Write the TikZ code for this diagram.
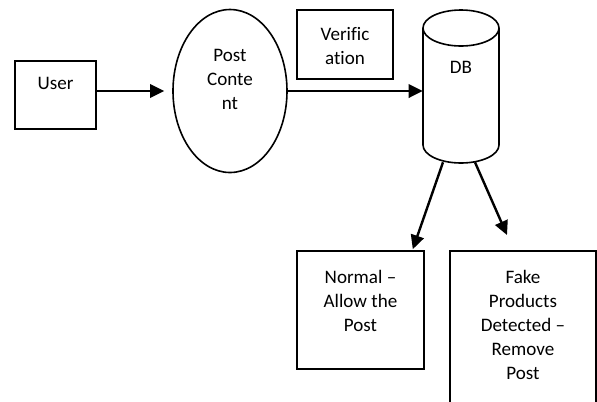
\documentclass[tikz,border=0pt]{standalone}
\usepackage{fontspec}
\setmainfont{Carlito}[Ligatures=CommonOff]
\usetikzlibrary{shapes.geometric,arrows.meta,calc}
\newdimen\pxu \pxu=0.75pt

\begin{document}
\begin{tikzpicture}[x=0.75pt,y=-0.75pt,
  box/.style={draw, line width=1.2pt, rectangle, inner sep=0pt},
  txt/.style={align=center, inner sep=0pt, font=\fontsize{14.3}{18}\selectfont},
  arr/.style={line width=1.8pt, -{Triangle[length=10.5pt,width=10pt]}}]
\useasboundingbox (0,0) rectangle (597,401);

%%%%%%%%%%%%%%%%%%%%%%%%%%%%%%%
\node[box, minimum width=81\pxu, minimum height=68\pxu] (user) at (55.5,95) {};
\node[txt] (usertxt) at (55.5,83) {User};

\node[draw, line width=1.2pt, ellipse, minimum width=114\pxu, minimum height=163\pxu, inner sep=0pt] (post) at (230,91) {};
\node[txt] (posttxt) at (230,79) {Post\\Conte\\nt};

\node[box, minimum width=96\pxu, minimum height=69\pxu] (verif) at (345,44.5) {};
\node[txt] (veriftxt) at (345,46) {Verific\\ation};

%%%%%%%%%%%%%%%%%%%%%%%%%%%%%%% DB
\node[minimum width=76\pxu, minimum height=153\pxu, inner sep=0pt] (db) at (461,86.5) {};
\draw[line width=1.2pt] (423,28) -- (423,145) arc[start angle=180, end angle=360, x radius=38, y radius=-18]
  -- (499,28) arc[start angle=0, end angle=180, x radius=38, y radius=-18];
\draw[line width=1.2pt] (423,28) arc[start angle=180, end angle=360, x radius=38, y radius=-18];
\node[txt] (dbtxt) at (461,67) {DB};

%%%%%%%%%%%%%%%%%%%%%%%%%%%%%%%
\node[box, minimum width=127\pxu, minimum height=118\pxu] (normal) at (360.5,310) {};
\node[txt] (normaltxt) at (360.5,301) {Normal --\\Allow the\\Post};

\node[box, minimum width=146\pxu, minimum height=170\pxu] (fake) at (523,336) {};
\node[txt] (faketxt) at (523,324.5) {Fake\\Products\\Detected --\\Remove\\Post};

\coordinate (fakein) at (507,235);

%%%%%%%%%%%%%%%%%%%%%%%%%%%%%%% arrows
\draw[arr] (user.east |- post.west) -- ($(post.west)+(-8,0)$);
\draw[arr] (post.east) -- (post.east -| db.west);
\draw[arr] ($(db.south)+(-18,-1)$) -- ($(normal.north east)+(-12,-1)$);
\draw[arr] ($(db.south)+(14,-1)$) -- (fakein);
\end{tikzpicture}
\end{document}
